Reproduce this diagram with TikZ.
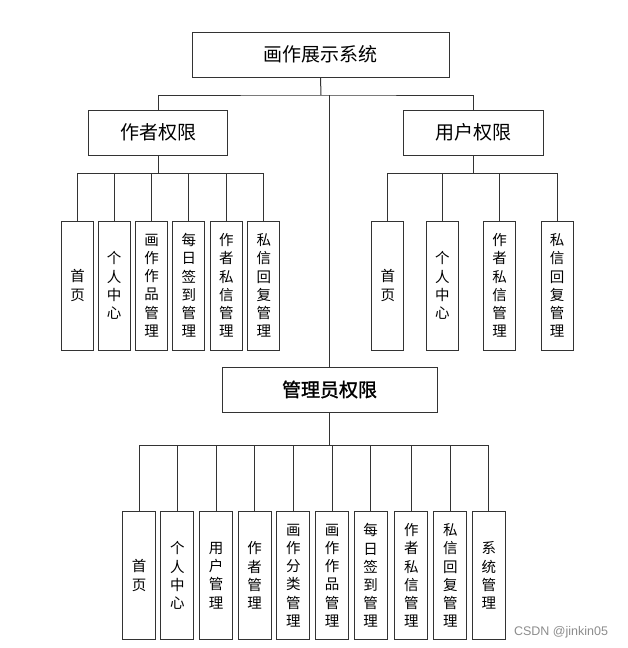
\documentclass[tikz,border=0pt]{standalone}
\usepackage{fontspec}
\newfontfamily\cjk{Noto Sans CJK SC}
\newfontfamily\cjkheavy[FakeBold=1.5]{Noto Sans CJK SC}
\newfontfamily\wmfont{Liberation Sans}
\tikzset{
  line/.style={draw=black!80, line width=1pt},
  headbox/.style={line, minimum height=45pt, inner sep=0pt,
    font=\cjk\fontsize{19}{22}\selectfont},
  leafbox/.style={line, minimum width=32pt, minimum height=129pt,
    inner sep=0pt, align=center, font=\cjk\fontsize{14.5}{18.2}\selectfont},
}
\begin{document}
\begin{tikzpicture}[x=1pt, y=-1pt]
    \useasboundingbox (0,0) rectangle (628,648);

    % Top levels
    \node[headbox, minimum width=257pt] (sys) at (320.5,54.5) {画作展示系统};
    \node[headbox, minimum width=139pt] (author) at (158,132.5) {作者权限};
    \node[headbox, minimum width=140pt] (user) at (473,132.5) {用户权限};
    \node[headbox, minimum width=215pt, font=\cjkheavy\fontsize{19}{22}\selectfont]
      (admin) at (329.5,389.5) {管理员权限};

    \coordinate (bus) at (321,95);
    \draw[line] (sys.south) -- (bus);
    \draw[line] (author.north) |- (bus) -| (user.north);
    \draw[line] (admin.north) -- (admin.north |- bus);

    % Author leaves
    \foreach \x/\txt [count=\i] in {77.5/{首\\页}, 114/{个\\人\\中\\心},
        151.7/{画\\作\\作\\品\\管\\理}, 188.8/{每\\日\\签\\到\\管\\理},
        226.3/{作\\者\\私\\信\\管\\理}, 263.8/{私\\信\\回\\复\\管\\理}} {
      \node[leafbox] (a\i) at (\x,285.5) {\txt};
      \draw[line] (author.south) -- ++(0,18) -| (a\i.north);
    }

    % User leaves
    \foreach \x/\txt [count=\i] in {387.9/{首\\页}, 442.3/{个\\人\\中\\心},
        499.7/{作\\者\\私\\信\\管\\理}, 557/{私\\信\\回\\复\\管\\理}} {
      \node[leafbox] (u\i) at (\x,285.5) {\txt};
      \draw[line] (user.south) -- ++(0,18) -| (u\i.north);
    }

    % Admin leaves
    \foreach \x/\txt [count=\i] in {139/{首\\页}, 177.3/{个\\人\\中\\心},
        216/{用\\户\\管\\理}, 254.5/{作\\者\\管\\理},
        293.3/{画\\作\\分\\类\\管\\理}, 332/{画\\作\\作\\品\\管\\理},
        370.7/{每\\日\\签\\到\\管\\理}, 411.3/{作\\者\\私\\信\\管\\理},
        450.3/{私\\信\\回\\复\\管\\理}, 488.8/{系\\统\\管\\理}} {
      \node[leafbox, minimum width=33pt, minimum height=127.6pt] (m\i) at (\x,575.5) {\txt};
      \draw[line] (admin.south) -- ++(0,33) -| (m\i.north);
    }

    \node[text=black!45, font=\wmfont\fontsize{12.5}{14}\selectfont] (watermark)
      at (561,632) {CSDN @jinkin05};
\end{tikzpicture}
\end{document}
